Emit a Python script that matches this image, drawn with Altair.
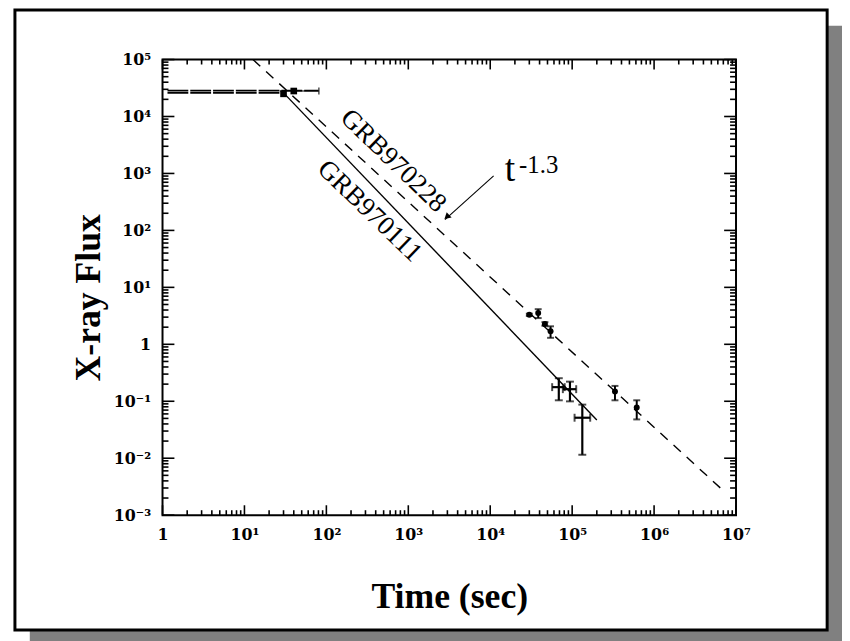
import altair as alt
import pandas as pd

# ---------------- axis ticks ----------------
x_decades = [1, 10, 100, 1e3, 1e4, 1e5, 1e6, 1e7]
x_labels = ["1", "10¹", "10²", "10³", "10⁴", "10⁵", "10⁶", "10⁷"]
y_decades = [1e-3, 1e-2, 1e-1, 1, 10, 100, 1e3, 1e4, 1e5]
y_labels = ["10⁻³", "10⁻²", "10⁻¹", "1", "10¹", "10²", "10³", "10⁴", "10⁵"]
x_minor = [m * d for d in x_decades[:-1] for m in range(2, 10)]
y_minor = [m * d for d in y_decades[:-1] for m in range(2, 10)]

# ---------------- data ----------------
# early flat (GRBM) parts
flat11_t = [1.15, 30]
flat11_f = [2.6e4, 2.6e4]
flat28_t = [1.15, 80]
flat28_f = [2.85e4, 2.85e4]
# GRB970111 decay (solid)
line11_t = [30, 2.0e5]
line11_f = [2.6e4, 0.047]
# GRB970228 t^-1.3 power law (dashed)
line28_t = [12.7, 7.4e6]
line28_f = [1e5, 2.5e-3]
# early square points
sq_t = [30, 40]
sq_f = [2.5e4, 2.8e4]
sq_tlo = [30, 27]
sq_thi = [30, 81]
# GRB970228 afterglow points
p28_t = [3.0e4, 3.85e4, 4.65e4, 5.45e4, 3.33e5, 6.14e5]
p28_f = [3.3, 3.55, 2.28, 1.70, 0.148, 0.078]
p28_lo = [3.15, 2.89, 2.12, 1.30, 0.104, 0.048]
p28_hi = [3.45, 4.14, 2.45, 2.07, 0.186, 0.104]
# GRB970111 afterglow crosses
p11_t = [6.87e4, 9.4e4, 1.33e5]
p11_f = [0.177, 0.163, 0.0514]
p11_flo = [0.104, 0.0996, 0.0115]
p11_fhi = [0.254, 0.221, 0.0873]
p11_tlo = [5.7e4, 7.7e4, 1.07e5]
p11_thi = [8.1e4, 1.12e5, 1.66e5]

# annotations (data coordinates)
lab28 = {"t": 656, "f": 1667, "text": "GRB970228"}
lab11 = {"t": 337, "f": 218, "text": "GRB970111"}
t_lab = {"t": 1.5e4, "f": 750, "text": "t"}
exp_lab = {"t": 2.25e4, "f": 1030, "text": "-1.3"}
arrow_t = [1.1e4, 2800]
arrow_f = [906, 155]
arrow_head = {"t": 2950, "f": 172}

W, H = 579, 460
xs = alt.Scale(type="log", domain=[1, 1e7], nice=False)
ys = alt.Scale(type="log", domain=[1e-3, 1e5], nice=False)
anchor = pd.DataFrame({"t": [1.0], "f": [1.0]})

# ---------------- decoration: frame with shadow ----------------
shadow = alt.Chart(anchor).mark_rect(color="#808080").encode(
    x=alt.value(-134), x2=alt.value(700), y=alt.value(-34), y2=alt.value(600))
frame = alt.Chart(anchor).mark_rect(fill="white", stroke="black", strokeWidth=3).encode(
    x=alt.value(-149), x2=alt.value(671), y=alt.value(-50), y2=alt.value(576))
plotbox = alt.Chart(anchor).mark_rect(fillOpacity=0, stroke="black", strokeWidth=2).encode(
    x=alt.value(0), x2=alt.value(W), y=alt.value(0), y2=alt.value(H))


def xy(**kw):
    return dict(x=alt.X("t:Q", scale=xs, axis=None), y=alt.Y("f:Q", scale=ys, axis=None), **kw)


def line_layer(ts, fs, dash=None, width=1.4):
    df = pd.DataFrame({"t": ts, "f": fs})
    props = dict(color="black", strokeWidth=width)
    if dash:
        props["strokeDash"] = dash
    return alt.Chart(df).mark_line(**props).encode(**xy())


flat11 = line_layer(flat11_t, flat11_f, dash=[21, 2], width=1.7)
flat28 = line_layer(flat28_t, flat28_f, dash=[21, 2], width=1.7)
line11 = line_layer(line11_t, line11_f, width=1.4)
line28 = line_layer(line28_t, line28_f, dash=[10, 8], width=1.4)

sq_df = pd.DataFrame({"t": sq_t, "f": sq_f, "tlo": sq_tlo, "thi": sq_thi})
squares = alt.Chart(sq_df).mark_square(size=45, color="black", opacity=1).encode(**xy())
sq_bars = alt.Chart(sq_df).mark_rule(color="black", strokeWidth=1.2).encode(
    x=alt.X("tlo:Q", scale=xs, axis=None), x2="thi:Q", y=alt.Y("f:Q", scale=ys, axis=None))
sq_caps = alt.Chart(pd.DataFrame({"t": [sq_thi[1]], "f": [sq_f[1]]})).mark_tick(
    orient="vertical", size=7, thickness=1.5, color="black").encode(**xy())

p28 = pd.DataFrame({"t": p28_t, "f": p28_f, "lo": p28_lo, "hi": p28_hi})
p28_bars = alt.Chart(p28).mark_rule(color="black", strokeWidth=2).encode(
    x=alt.X("t:Q", scale=xs, axis=None), y=alt.Y("lo:Q", scale=ys, axis=None), y2="hi:Q")
p28_caps_df = pd.concat([
    pd.DataFrame({"t": p28_t, "f": p28_lo}),
    pd.DataFrame({"t": p28_t, "f": p28_hi})])
p28_caps = alt.Chart(p28_caps_df).mark_tick(orient="horizontal", size=7, thickness=2,
                                              color="black").encode(**xy())
p28_pts = alt.Chart(p28).mark_circle(size=36, color="black", opacity=1).encode(**xy())

p11 = pd.DataFrame({"t": p11_t, "f": p11_f, "flo": p11_flo, "fhi": p11_fhi,
                    "tlo": p11_tlo, "thi": p11_thi})
p11_v = alt.Chart(p11).mark_rule(color="black", strokeWidth=2.2).encode(
    x=alt.X("t:Q", scale=xs, axis=None), y=alt.Y("flo:Q", scale=ys, axis=None), y2="fhi:Q")
p11_h = alt.Chart(p11).mark_rule(color="black", strokeWidth=2.2).encode(
    x=alt.X("tlo:Q", scale=xs, axis=None), x2="thi:Q", y=alt.Y("f:Q", scale=ys, axis=None))
p11_vcaps_df = pd.concat([
    pd.DataFrame({"t": p11_t, "f": p11_flo}),
    pd.DataFrame({"t": p11_t, "f": p11_fhi})])
p11_hcaps_df = pd.concat([
    pd.DataFrame({"t": p11_tlo, "f": p11_f}),
    pd.DataFrame({"t": p11_thi, "f": p11_f})])
p11_vcaps = alt.Chart(p11_vcaps_df).mark_tick(orient="horizontal", size=8, thickness=2,
                                                color="black").encode(**xy())
p11_hcaps = alt.Chart(p11_hcaps_df).mark_tick(orient="vertical", size=8, thickness=2,
                                                color="black").encode(**xy())

SERIF = "Liberation Serif"


def text_layer(d, size, angle=0, align="center", baseline="middle"):
    df = pd.DataFrame([d])
    props = dict(font=SERIF, fontSize=size, color="black", align=align, baseline=baseline)
    if angle:
        props["angle"] = angle
    return alt.Chart(df).mark_text(**props).encode(text="text:N", **xy())


txt28 = text_layer(lab28, 27, angle=44)
txt11 = text_layer(lab11, 27, angle=44)
txt_t = text_layer(t_lab, 38, align="left", baseline="alphabetic")
txt_exp = text_layer(exp_lab, 25, align="left", baseline="alphabetic")

arrow_line = line_layer(arrow_t, arrow_f, width=1.1)
arrow_tip = alt.Chart(pd.DataFrame([arrow_head])).mark_point(
    shape="triangle-up", size=55, angle=228, filled=True, color="black", opacity=1).encode(**xy())

# ---------------- inward ticks on all four sides ----------------
TW = 1.6
xt_major = pd.DataFrame({"t": x_decades})
xt_minor = pd.DataFrame({"t": x_minor})
yt_major = pd.DataFrame({"f": y_decades})
yt_minor = pd.DataFrame({"f": y_minor})


def xticks(df, y0, y1):
    return alt.Chart(df).mark_rule(color="black", strokeWidth=TW).encode(
        x=alt.X("t:Q", scale=xs, axis=None), y=alt.value(y0), y2=alt.value(y1))


def yticks(df, x0, x1):
    return alt.Chart(df).mark_rule(color="black", strokeWidth=TW).encode(
        y=alt.Y("f:Q", scale=ys, axis=None), x=alt.value(x0), x2=alt.value(x1))


tick_layers = [
    xticks(xt_major, H, H - 10), xticks(xt_minor, H, H - 5),
    xticks(xt_major, 0, 10), xticks(xt_minor, 0, 5),
    yticks(yt_major, 0, 12), yticks(yt_minor, 0, 6),
    yticks(yt_major, W, W - 12), yticks(yt_minor, W, W - 6),
]

# ---------------- axis labels and titles ----------------
LABEL_FONT = "DejaVu Serif"
x_expr = "[" + ",".join("'%s'" % s for s in x_labels) + "][round(log(datum.value)/LN10)]"
y_expr = "[" + ",".join("'%s'" % s for s in y_labels) + "][round(log(datum.value)/LN10)+3]"

x_lab_axis = alt.Axis(orient="bottom", values=x_decades, ticks=False, domain=False, grid=False,
                      labelExpr=x_expr, labelFont=LABEL_FONT, labelFontWeight="bold",
                      labelFontSize=16, labelColor="black", labelPadding=12,
                      labelFlush=False, labelOverlap=False, labelBaseline="top",
                      title="Time (sec)", titleFont=SERIF, titleFontSize=36,
                      titleFontWeight="bold", titleColor="black", titleX=W / 2, titleY=93,
                      titleBaseline="alphabetic", titleAlign="center", zindex=2)
y_lab_axis = alt.Axis(orient="left", values=y_decades, ticks=False, domain=False, grid=False,
                      labelExpr=y_expr, labelFont=LABEL_FONT, labelFontWeight="bold",
                      labelFontSize=16, labelColor="black", labelPadding=12,
                      labelFlush=False, labelOverlap=False, labelBaseline="middle",
                      title="X-ray Flux", titleFont=SERIF, titleFontSize=36,
                      titleFontWeight="bold", titleColor="black", titleX=-64, titleY=240,
                      titleAngle=270, titleBaseline="alphabetic", titleAlign="center",
                      zindex=2)

axis_layer = alt.Chart(anchor).mark_point(opacity=0).encode(
    x=alt.X("t:Q", scale=xs, axis=x_lab_axis), y=alt.Y("f:Q", scale=ys, axis=y_lab_axis))

chart = alt.layer(
    axis_layer,
    shadow, frame,
    flat11, flat28, line11, line28,
    sq_bars, squares, sq_caps,
    p28_bars, p28_caps, p28_pts,
    p11_v, p11_h, p11_vcaps, p11_hcaps,
    txt28, txt11, txt_t, txt_exp, arrow_line, arrow_tip,
    *tick_layers,
    plotbox,
).resolve_axis(x="independent", y="independent").properties(
    width=W, height=H,
    autosize=alt.AutoSizeParams(type="none"),
    padding={"left": 156, "top": 49, "right": 107, "bottom": 124},
).configure_view(strokeWidth=0)

chart.save("out.html", embed_options={"renderer": "svg", "actions": False})
